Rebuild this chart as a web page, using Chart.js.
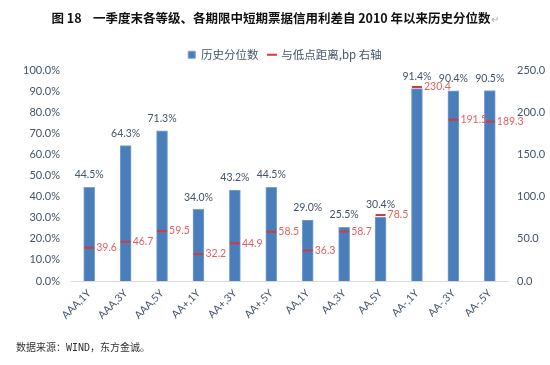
<!DOCTYPE html>
<html>
<head>
<meta charset="utf-8">
<script src="https://cdn.jsdelivr.net/npm/chart.js@4"></script>
<style>
  body { margin: 0; background: #fff; }
  #wrap { position: relative; width: 550px; height: 365px; }
  #title { position: absolute; left: 0; top: 8px; width: 550px; text-align: center; font: bold 12.5px "Noto Sans CJK SC", sans-serif; color: #111; white-space: nowrap; }
  #title .mark { color: #aaa; font-weight: normal; font-size: 10px; }
  #note { position: absolute; left: 16px; top: 339px; font: 10px "DejaVu Sans Mono", "Noto Sans CJK SC", monospace; color: #333; white-space: nowrap; }
  canvas { position: absolute; left: 0; top: 0; }
</style>
</head>
<body>
<div id="wrap">
  <canvas id="chart" width="550" height="365"></canvas>
  <div id="title">图&nbsp;18&nbsp;&nbsp;&nbsp;&nbsp;一季度末各等级、各期限中短期票据信用利差自 2010 年以来历史分位数<span class="mark">↵</span></div>
  <div id="note">数据来源：WIND，东方金诚。</div>
</div>
<script>
// categories and values
const categories = ['AAA,1Y', 'AAA,3Y', 'AAA,5Y', 'AA+,1Y', 'AA+,3Y', 'AA+,5Y', 'AA,1Y', 'AA,3Y', 'AA,5Y', 'AA-,1Y', 'AA-,3Y', 'AA-,5Y'];
const percentile = [44.5, 64.3, 71.3, 34.0, 43.2, 44.5, 29.0, 25.5, 30.4, 91.4, 90.4, 90.5];
const distance = [39.6, 46.7, 59.5, 32.2, 44.9, 58.5, 36.3, 58.7, 78.5, 230.4, 191.5, 189.3];

const textColor = '#44546a';
const barColor = '#4a7ebb';
const markColor = '#d13b3b';
const markLabelColor = '#e0625f';
const numFont = 'Lato, "Noto Sans CJK SC", sans-serif';

// draws the value labels (bars above, markers to the right)
const valueLabels = {
  id: 'valueLabels',
  afterDatasetsDraw(chart) {
    const ctx = chart.ctx;
    ctx.save();
    ctx.font = '10.5px ' + numFont;
    const barMeta = chart.getDatasetMeta(0);
    barMeta.data.forEach((el, i) => {
      ctx.fillStyle = textColor;
      ctx.textAlign = 'center';
      ctx.textBaseline = 'bottom';
      ctx.fillText(percentile[i].toFixed(1) + '%', el.x, el.y - 7);
    });
    const lineMeta = chart.getDatasetMeta(1);
    const pts = lineMeta.data;
    pts.forEach((el, i) => {
      const txt = distance[i].toFixed(1);
      const w = ctx.measureText(txt).width;
      // pull the label in when it would run into the next bar / right axis
      const limit = i < pts.length - 1 ? pts[i + 1].x - 6 : chart.chartArea.right + 8;
      const off = (el.x + 12 + w > limit) ? 7 : 12;
      ctx.fillStyle = markLabelColor;
      ctx.textAlign = 'left';
      ctx.textBaseline = 'middle';
      ctx.fillText(txt, el.x + off, el.y);
    });
    ctx.restore();
  }
};

const ctx = document.getElementById('chart');

const chart = new Chart(ctx, {
  data: {
    labels: categories,
    datasets: [{
      type: 'bar',
      label: '历史分位数',
      data: percentile,
      yAxisID: 'y',
      backgroundColor: barColor,
      borderColor: '#7aa3d6',
      borderWidth: 1,
      barThickness: 11,
      pointStyle: 'rect',
      order: 1
    }, {
      type: 'line',
      label: '与低点距离,bp 右轴',
      data: distance,
      yAxisID: 'y1',
      showLine: false,
      pointStyle: 'line',
      pointRadius: 5,
      pointBorderWidth: 2,
      borderColor: markColor,
      backgroundColor: markColor,
      order: 0
    }]
  },
  options: {
    responsive: false,
    animation: false,
    layout: { padding: { left: 20, right: 0, top: 39, bottom: 0 } },
    plugins: {
      tooltip: { enabled: false },
      legend: {
        position: 'top',
        labels: {
          usePointStyle: true,
          boxWidth: 7,
          boxHeight: 7,
          padding: 10,
          color: textColor,
          font: { size: 11.5, family: '"Noto Sans CJK SC", sans-serif' },
          sort: (a, b) => a.datasetIndex - b.datasetIndex
        }
      }
    },
    scales: {
      x: {
        grid: { display: false, drawTicks: false },
        border: { display: true, color: '#d9d9d9' },
        ticks: {
          autoSkip: false,
          minRotation: 45,
          maxRotation: 45,
          padding: 6,
          color: textColor,
          font: { size: 10.5, family: numFont }
        },
        afterFit(scale) { scale.height = 84; }
      },
      y: {
        position: 'left',
        min: 0,
        max: 100,
        grid: { display: false, drawTicks: false },
        border: { display: false },
        ticks: {
          stepSize: 10,
          padding: 11,
          color: textColor,
          font: { size: 11, family: numFont },
          callback: v => v.toFixed(1) + '%'
        },
        afterFit(scale) { scale.width = 51; }
      },
      y1: {
        position: 'right',
        min: 0,
        max: 250,
        grid: { display: false, drawTicks: false },
        border: { display: false },
        ticks: {
          stepSize: 50,
          padding: 9,
          color: textColor,
          font: { size: 11, family: numFont },
          callback: v => v.toFixed(1)
        },
        afterFit(scale) { scale.width = 42; }
      }
    }
  },
  plugins: [valueLabels]
});
</script>
</body>
</html>
